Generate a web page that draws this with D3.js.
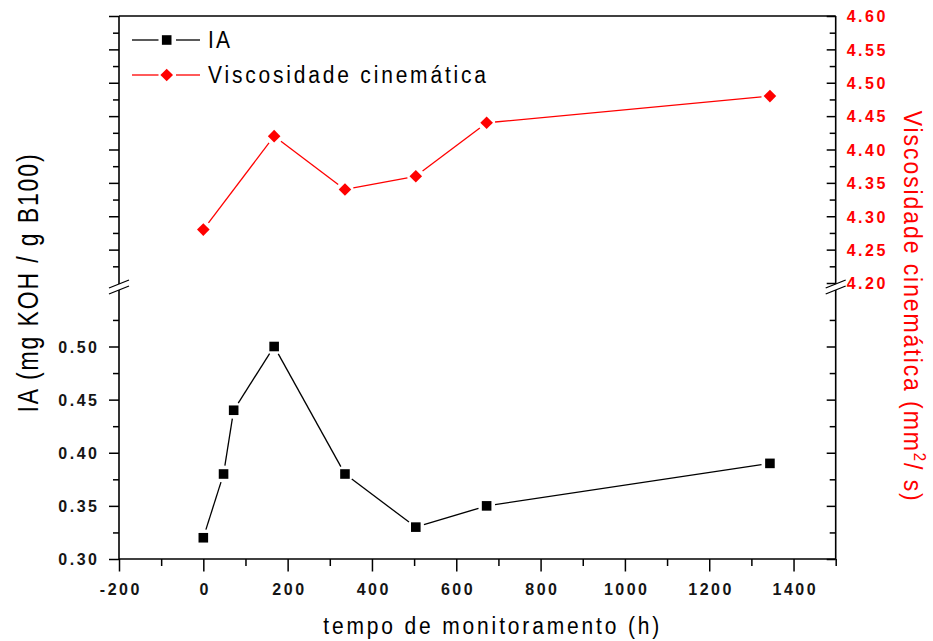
<!DOCTYPE html>
<html><head><meta charset="utf-8">
<script src="https://cdn.jsdelivr.net/npm/d3@7/dist/d3.min.js"></script>
<style>body{margin:0;background:#fff}svg{display:block}</style>
</head><body><svg id="c" width="933" height="641"></svg>
<script>
// ---- data ----
const iaHours = [0, 48, 72, 168, 336, 504, 672, 1344];
const iaValues = [0.32, 0.38, 0.44, 0.50, 0.38, 0.33, 0.35, 0.39];
const viscHours = [0, 168, 336, 504, 672, 1344];
const viscValues = [4.28, 4.42, 4.34, 4.36, 4.44, 4.48];
const seriesNames = ["IA", "Viscosidade cinemática"];
const xMajor = [-200, 0, 200, 400, 600, 800, 1000, 1200, 1400];
const xMinor = [-100, 100, 300, 500, 700, 900, 1100, 1300, 1500];
const iaMajor = [0.30, 0.35, 0.40, 0.45, 0.50];
const iaMinor = [0.325, 0.375, 0.425, 0.475, 0.525];
const viscMajor = [4.20, 4.25, 4.30, 4.35, 4.40, 4.45, 4.50, 4.55, 4.60];
const viscMinor = [4.225, 4.275, 4.325, 4.375, 4.425, 4.475, 4.525, 4.575];
const xTitle = "tempo de monitoramento (h)";
const yLeftTitle = "IA (mg KOH / g B100)";
const yRightTitleA = "Viscosidade cinemática (mm", yRightSup = "2", yRightTitleB = "/ s)";

// ---- layout ----
const FONT = '"Liberation Sans", Arial, sans-serif';
const RED = '#ff0000';
const L = 119, R = 835.7, T = 16, B = 559, BRK = 287;
const svg = d3.select('#c');
const x = d3.scaleLinear().domain([-200, 1500]).range([L, R]);
const yIA = d3.scaleLinear().domain([0.30, 0.556]).range([B, BRK]);
const yV = d3.scaleLinear().domain([4.20, 4.60]).range([283, T]);

function axis(gen, tx, ty) {
  const g = svg.append('g').attr('transform', `translate(${tx},${ty})`).call(gen);
  g.select('.domain').remove();
  g.selectAll('line').attr('stroke', '#000').attr('stroke-width', 1.5);
  g.attr('font-family', FONT).attr('font-size', 16).attr('font-weight', 'bold');
  g.selectAll('text').attr('letter-spacing', 2.5).attr('fill', '#151515');
  return g;
}
const none = () => '';

// bottom axis
const gb = axis(d3.axisBottom(x).tickValues(xMajor).tickSize(12.5).tickFormat(d => String(d)), 0, B);
gb.selectAll('text').attr('y', 36).attr('dy', 0).attr('dx', 1.3);
axis(d3.axisBottom(x).tickValues(xMinor).tickSize(7).tickFormat(none), 0, B);

// left axis lower (IA)
const gl = axis(d3.axisLeft(yIA).tickValues(iaMajor).tickSize(10).tickPadding(9.5).tickFormat(d3.format('.2f')), L, 0);
gl.selectAll('text').attr('dy', '0.36em');
axis(d3.axisLeft(yIA).tickValues(iaMinor).tickSize(6).tickFormat(none), L, 0);
// left axis upper (mirrors viscosity)
axis(d3.axisLeft(yV).tickValues(viscMajor.filter(v => v > 4.21)).tickSize(10).tickFormat(none), L, 0);
axis(d3.axisLeft(yV).tickValues(viscMinor).tickSize(6).tickFormat(none), L, 0);

// right axis upper (viscosity), ticks inward
const gr = axis(d3.axisRight(yV).tickValues(viscMajor).tickSize(-9).tickPadding(11).tickFormat(d3.format('.2f')), R, 0);
gr.selectAll('text').attr('fill', RED).attr('dy', '0.36em');
axis(d3.axisRight(yV).tickValues(viscMinor).tickSize(-6).tickFormat(none), R, 0);
// right axis lower (mirrors IA)
axis(d3.axisRight(yIA).tickValues(iaMajor).tickSize(-9).tickFormat(none), R, 0);
axis(d3.axisRight(yIA).tickValues(iaMinor).tickSize(-6).tickFormat(none), R, 0);

// frame lines with break gaps
const frame = [
  [[L, T], [R, T]],
  [[L, B], [R, B]],
  [[L, T], [L, BRK - 3]], [[L, BRK + 3], [L, B]],
  [[R, T], [R, BRK - 3]], [[R, BRK + 3], [R, B]]
];
svg.append('g').selectAll('line').data(frame).join('line')
  .attr('x1', d => d[0][0]).attr('y1', d => d[0][1]).attr('x2', d => d[1][0]).attr('y2', d => d[1][1])
  .attr('stroke', '#000').attr('stroke-width', 1.6);
// break marks
const brk = [];
[L, R].forEach(cx => {
  brk.push([[cx - 10, BRK + 1], [cx + 10, BRK - 7]]);
  brk.push([[cx - 10, BRK + 7], [cx + 10, BRK - 1]]);
});
svg.append('g').selectAll('line').data(brk).join('line')
  .attr('x1', d => d[0][0]).attr('y1', d => d[0][1]).attr('x2', d => d[1][0]).attr('y2', d => d[1][1])
  .attr('stroke', '#000').attr('stroke-width', 1.3);

// series lines with gaps near markers
function gapSegments(pts, gap) {
  const segs = [];
  for (let i = 0; i < pts.length - 1; i++) {
    const [x1, y1] = pts[i], [x2, y2] = pts[i + 1];
    const dx = x2 - x1, dy = y2 - y1, len = Math.hypot(dx, dy);
    if (len <= 2 * gap) continue;
    const ux = dx / len, uy = dy / len;
    segs.push([x1 + ux * gap, y1 + uy * gap, x2 - ux * gap, y2 - uy * gap]);
  }
  return segs;
}
const iaPts = iaHours.map((h, i) => [x(h), yIA(iaValues[i])]);
const vPts = viscHours.map((h, i) => [x(h), yV(viscValues[i])]);
function drawSeries(pts, color, marker) {
  const g = svg.append('g');
  g.selectAll('line').data(gapSegments(pts, 8.5)).join('line')
    .attr('x1', d => d[0]).attr('y1', d => d[1]).attr('x2', d => d[2]).attr('y2', d => d[3])
    .attr('stroke', color).attr('stroke-width', 1.3);
  g.selectAll('path').data(pts).join('path')
    .attr('d', marker).attr('transform', d => `translate(${d[0]},${d[1]})`).attr('fill', color);
}
const sq = 'M-4.8,-4.8H4.8V4.8H-4.8Z';
const dia = 'M0,-6.3L6.3,0L0,6.3L-6.3,0Z';
drawSeries(iaPts, '#000', sq);
drawSeries(vPts, RED, dia);

// fit helper: spread letters to a target width
function fit(t, target) {
  const len = t.node().getComputedTextLength();
  const n = t.text().length;
  t.attr('letter-spacing', (target - len) / (n - 1));
}

// legend
const legend = svg.append('g');
[[40, '#000', sq, seriesNames[0], 22, 47.7], [75, RED, dia, seriesNames[1], 278, 83.3]].forEach(([yy, col, m, name, w, base]) => {
  legend.append('line').attr('x1', 132).attr('x2', 158.5).attr('y1', yy).attr('y2', yy).attr('stroke', col).attr('stroke-width', 1.3);
  legend.append('line').attr('x1', 176).attr('x2', 200).attr('y1', yy).attr('y2', yy).attr('stroke', col).attr('stroke-width', 1.3);
  legend.append('path').attr('d', m).attr('transform', `translate(166.7,${yy})`).attr('fill', col);
  const gt = legend.append('g').attr('transform', `translate(208,${base}) scale(1,1.15)`);
  const t = gt.append('text').attr('font-family', FONT).attr('font-size', 21).attr('fill', '#000').text(name);
  fit(t, w);
});

// axis titles
{
  const g = svg.append('g').attr('transform', 'translate(492.7,634) scale(1,1.15)');
  const t = g.append('text').attr('font-family', FONT).attr('font-size', 21).attr('text-anchor', 'middle').attr('fill', '#000').text(xTitle);
  fit(t, 336);
}
{
  const g = svg.append('g').attr('transform', 'translate(38,282.5) rotate(-90) scale(1,1.25)');
  const t = g.append('text').attr('font-family', FONT).attr('font-size', 23).attr('text-anchor', 'middle').attr('fill', '#000').text(yLeftTitle);
  fit(t, 258);
}
{
  const g = svg.append('g').attr('transform', 'translate(904,306.7) rotate(90) scale(1,1.16)');
  const t = g.append('text').attr('font-family', FONT).attr('font-size', 23).attr('text-anchor', 'middle').attr('fill', RED);
  t.append('tspan').text(yRightTitleA);
  t.append('tspan').attr('font-size', 15).attr('dy', -9).text(yRightSup);
  t.append('tspan').attr('dy', 9).text(yRightTitleB);
  fit(t, 390);
}
</script></body></html>
